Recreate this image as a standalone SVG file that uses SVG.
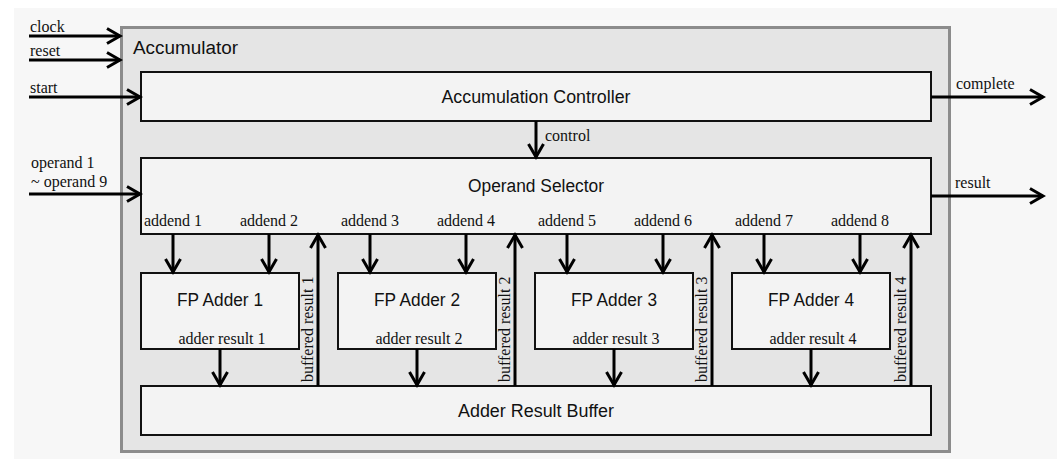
<svg xmlns="http://www.w3.org/2000/svg" width="1062" height="463" viewBox="0 0 1062 463">
  <defs>
    <marker id="arrow" markerUnits="userSpaceOnUse" markerWidth="18" markerHeight="18" refX="14" refY="8" orient="auto" overflow="visible">
      <path d="M1,0.5 L14,8 L1,15.5" fill="none" stroke="#000" stroke-width="3" stroke-linejoin="miter"/>
    </marker>
    <style>
      .block { fill: #f3f3f3; stroke: #111; stroke-width: 2; }
      .outer { fill: #e5e5e5; stroke: #8c8c8c; stroke-width: 3; }
      .title { font-family: "Liberation Sans", Arial, sans-serif; font-size: 18px; fill: #111; text-anchor: middle; }
      .sig { font-family: "Liberation Serif", "Times New Roman", serif; font-size: 16px; fill: #111; }
      .mid { text-anchor: middle; }
      .wire { stroke: #000; stroke-width: 3; fill: none; marker-end: url(#arrow); }
    </style>
  </defs>

  <!-- page -->
  <rect x="0" y="0" width="1062" height="463" fill="#ffffff"/>
  <rect x="14" y="8" width="1043" height="451" fill="#f7f7f7"/>

  <!-- top-level block -->
  <g id="accumulator">
    <rect class="outer" x="121.5" y="27.5" width="828" height="424"/>
    <text x="133" y="54" font-family="Liberation Sans, Arial, sans-serif" font-size="18" fill="#111" textLength="105" lengthAdjust="spacingAndGlyphs">Accumulator</text>
  </g>

  <g id="accumulation-controller">
    <rect class="block" x="141" y="72" width="790" height="49"/>
    <text class="title" x="536" y="103" textLength="189" lengthAdjust="spacingAndGlyphs">Accumulation Controller</text>
  </g>

  <g id="operand-selector">
    <rect class="block" x="141" y="158" width="790" height="76"/>
    <text class="title" x="536" y="192" textLength="136" lengthAdjust="spacingAndGlyphs">Operand Selector</text>
    <text class="sig mid" x="173" y="226">addend 1</text>
    <text class="sig mid" x="269" y="226">addend 2</text>
    <text class="sig mid" x="370" y="226">addend 3</text>
    <text class="sig mid" x="466" y="226">addend 4</text>
    <text class="sig mid" x="567" y="226">addend 5</text>
    <text class="sig mid" x="663" y="226">addend 6</text>
    <text class="sig mid" x="764" y="226">addend 7</text>
    <text class="sig mid" x="860" y="226">addend 8</text>
  </g>

  <g id="fp-adder-1">
    <rect class="block" x="141" y="273" width="158" height="76"/>
    <text class="title" x="220" y="306" textLength="86" lengthAdjust="spacingAndGlyphs">FP Adder 1</text>
    <text class="sig mid" x="222" y="344">adder result 1</text>
  </g>
  <g id="fp-adder-2">
    <rect class="block" x="338" y="273" width="158" height="76"/>
    <text class="title" x="417" y="306" textLength="86" lengthAdjust="spacingAndGlyphs">FP Adder 2</text>
    <text class="sig mid" x="419" y="344">adder result 2</text>
  </g>
  <g id="fp-adder-3">
    <rect class="block" x="535" y="273" width="158" height="76"/>
    <text class="title" x="614" y="306" textLength="86" lengthAdjust="spacingAndGlyphs">FP Adder 3</text>
    <text class="sig mid" x="616" y="344">adder result 3</text>
  </g>
  <g id="fp-adder-4">
    <rect class="block" x="732" y="273" width="158" height="76"/>
    <text class="title" x="811" y="306" textLength="86" lengthAdjust="spacingAndGlyphs">FP Adder 4</text>
    <text class="sig mid" x="813" y="344">adder result 4</text>
  </g>

  <g id="adder-result-buffer">
    <rect class="block" x="141" y="386" width="790" height="49"/>
    <text class="title" x="536" y="417" textLength="156" lengthAdjust="spacingAndGlyphs">Adder Result Buffer</text>
  </g>

  <!-- connectors -->
  <g id="connectors">
    <!-- external inputs -->
    <line class="wire" x1="29" y1="36" x2="120" y2="36"/>
    <line class="wire" x1="29" y1="60" x2="120" y2="60"/>
    <line class="wire" x1="29" y1="97" x2="140" y2="97"/>
    <line class="wire" x1="29" y1="194" x2="140" y2="194"/>
    <!-- external outputs -->
    <line class="wire" x1="931" y1="97" x2="1043" y2="97"/>
    <line class="wire" x1="931" y1="196" x2="1043" y2="196"/>
    <!-- controller to selector -->
    <line class="wire" x1="536" y1="121" x2="536" y2="157"/>
    <!-- addends to adders -->
    <line class="wire" x1="173" y1="234" x2="173" y2="272"/>
    <line class="wire" x1="269" y1="234" x2="269" y2="272"/>
    <line class="wire" x1="370" y1="234" x2="370" y2="272"/>
    <line class="wire" x1="466" y1="234" x2="466" y2="272"/>
    <line class="wire" x1="567" y1="234" x2="567" y2="272"/>
    <line class="wire" x1="663" y1="234" x2="663" y2="272"/>
    <line class="wire" x1="764" y1="234" x2="764" y2="272"/>
    <line class="wire" x1="860" y1="234" x2="860" y2="272"/>
    <!-- adder results to buffer -->
    <line class="wire" x1="220" y1="349" x2="220" y2="385"/>
    <line class="wire" x1="417" y1="349" x2="417" y2="385"/>
    <line class="wire" x1="614" y1="349" x2="614" y2="385"/>
    <line class="wire" x1="811" y1="349" x2="811" y2="385"/>
    <!-- buffered results back to selector -->
    <line class="wire" x1="318" y1="386" x2="318" y2="235"/>
    <line class="wire" x1="515" y1="386" x2="515" y2="235"/>
    <line class="wire" x1="712" y1="386" x2="712" y2="235"/>
    <line class="wire" x1="911" y1="386" x2="911" y2="235"/>

    <!-- connector labels -->
    <text class="sig" x="30" y="32">clock</text>
    <text class="sig" x="30" y="56">reset</text>
    <text class="sig" x="30" y="93">start</text>
    <text class="sig" x="31" y="168">operand 1</text>
    <text class="sig" x="31" y="187">~ operand 9</text>
    <text class="sig" x="956" y="89">complete</text>
    <text class="sig" x="955" y="188">result</text>
    <text class="sig" x="545" y="141">control</text>
    <text class="sig" transform="translate(313,382) rotate(-90)">buffered result 1</text>
    <text class="sig" transform="translate(510,382) rotate(-90)">buffered result 2</text>
    <text class="sig" transform="translate(707,382) rotate(-90)">buffered result 3</text>
    <text class="sig" transform="translate(906,382) rotate(-90)">buffered result 4</text>
  </g>
</svg>
